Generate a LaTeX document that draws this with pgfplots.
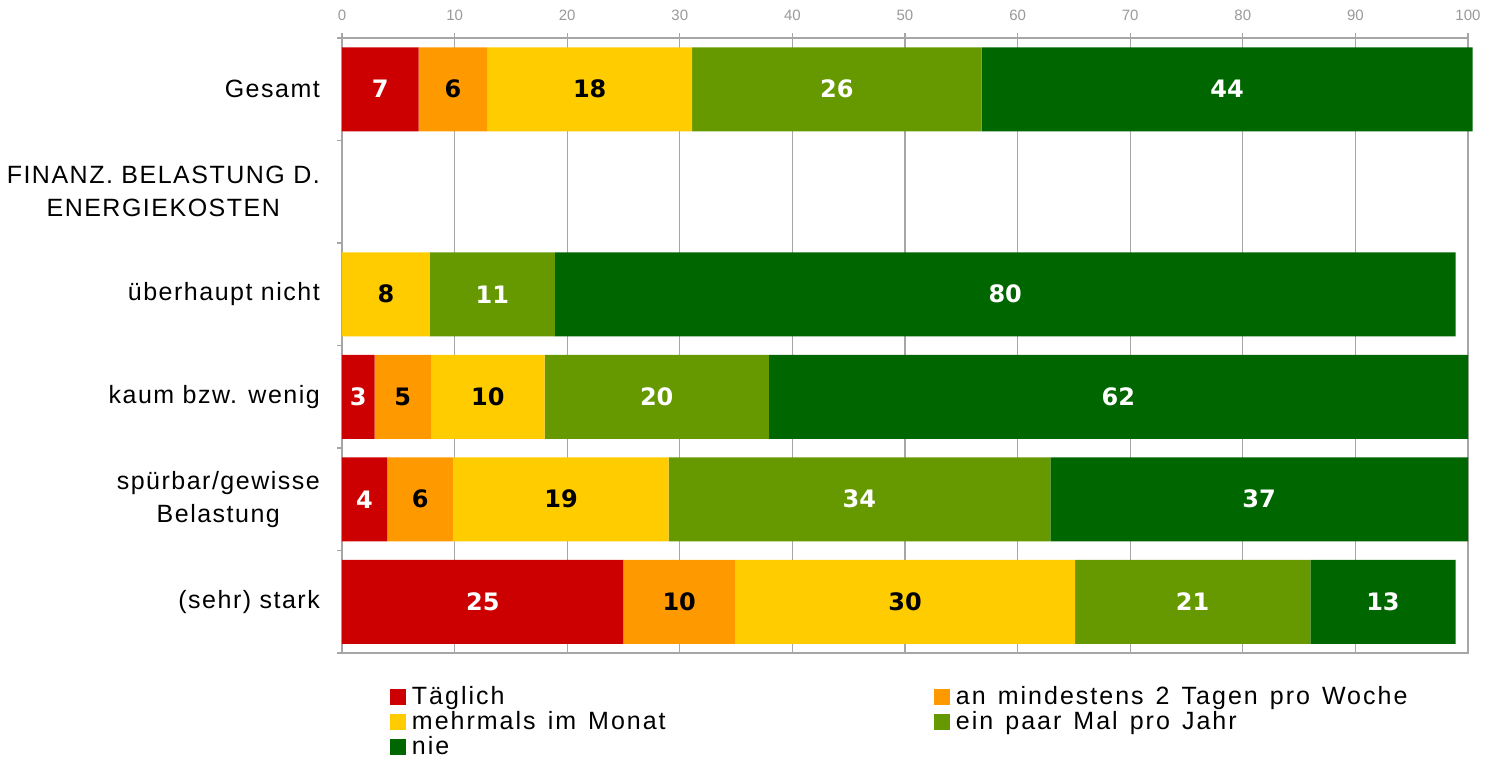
\documentclass[border=0pt]{standalone}
\usepackage{fontspec}
\setmainfont{Liberation Sans}[LetterSpace=6]
\newfontfamily\legfont{Liberation Sans}[LetterSpace=8, WordSpace=1.35]
\newfontfamily\tickfont{Liberation Sans}
\newfontfamily\barfont{DejaVu Sans}
\usepackage{pgfplots}
\usepackage{pgfplotstable}
\pgfplotsset{compat=1.18}
\definecolor{cRed}{HTML}{CC0000}
\definecolor{cOrange}{HTML}{FF9900}
\definecolor{cYellow}{HTML}{FFCC00}
\definecolor{cGreen}{HTML}{669900}
\definecolor{cDark}{HTML}{006600}
\definecolor{axgray}{HTML}{A6A6A6}
\definecolor{ticklab}{HTML}{999999}

\pgfplotstableread{
y a b c d e
0 6.8 6.1 18.2 25.7 43.6
2 0 0 7.8 11.1 80.0
3 2.9 5.0 10.1 19.9 62.1
4 4.0 5.9 19.1 33.9 37.1
5 25.0 9.9 30.2 20.9 12.9
}\data

\pgfplotstableread{
x y lab
3.4 0 7
43.95 0 26
78.6 0 44
13.35 2 11
58.9 2 80
1.45 3 3
27.95 3 20
68.95 3 62
2.0 4 4
45.95 4 34
81.45 4 37
12.5 5 25
75.55 5 21
92.45 5 13
}\whitelabels

\pgfplotstableread{
x y lab
9.85 0 6
22.0 0 18
3.9 2 8
5.4 3 5
12.95 3 10
6.95 4 6
19.45 4 19
29.95 5 10
50.0 5 30
}\blacklabels

\pgfplotsset{sq legend/.style={legend image code/.code={\fill[##1] (0pt,-6.5pt) rectangle (16pt,9.5pt);}}}

\begin{document}
\begin{tikzpicture}
\begin{axis}[
  name=main,
  scale only axis, width=1126pt, height=615pt,
  xbar stacked, bar width=84pt,
  xmin=0, xmax=100, ymin=-0.5, ymax=5.5, y dir=reverse,
  clip=false,
  axis line style={axgray, line width=1.3pt},
  tick style={axgray, line width=1.2pt},
  tick align=outside,
  major tick length=5pt,
  xtick={0,10,...,100},
  xtick pos=right, xticklabel pos=right,
  xmajorgrids,
  grid style={axgray, line width=1.2pt},
  xticklabel style={font=\tickfont\fontsize{15}{15}\selectfont, text=ticklab, inner sep=0pt, anchor=south, yshift=12pt},
  /pgf/number format/assume math mode=true,
  ytick={-0.5,0.5,1.5,2.5,3.5,4.5,5.5},
  yticklabels={},
  ytick pos=left,
  extra y ticks={0,1,2,3,4,5},
  extra y tick labels={Gesamt,{FINANZ. BELASTUNG D.\\ENERGIEKOSTEN},{überhaupt nicht},{kaum bzw. wenig},{spürbar/gewisse\\Belastung},{(sehr) stark}},
  extra y tick style={major tick length=0pt},
  yticklabel style={font=\fontsize{25}{33}\selectfont, align=center, inner sep=0pt, anchor=east, xshift=-22pt},
  legend columns=2,
  legend style={at={(0.0426,-0.0530)}, anchor=north west, draw=none, fill=none, inner sep=0pt, outer sep=0pt,
    font=\legfont\fontsize{25}{25}\selectfont,
    nodes={inner sep=0pt, text height=19pt, text depth=6pt},
    /tikz/every odd column/.append style={column sep=6pt},
    /tikz/every even column/.append style={column sep=0pt}},
  legend cell align=left,
]
\addplot[fill=cRed, draw=none, sq legend] table[x=a, y=y] \data;
\addlegendentry{\makebox[522pt][l]{Täglich}}
\addplot[fill=cOrange, draw=none, sq legend] table[x=b, y=y] \data;
\addlegendentry{an mindestens 2 Tagen pro Woche}
\addplot[fill=cYellow, draw=none, sq legend] table[x=c, y=y] \data;
\addlegendentry{\makebox[522pt][l]{mehrmals im Monat}}
\addplot[fill=cGreen, draw=none, sq legend] table[x=d, y=y] \data;
\addlegendentry{ein paar Mal pro Jahr}
\addplot[fill=cDark, draw=none, sq legend] table[x=e, y=y] \data;
\addlegendentry{\makebox[522pt][l]{nie}}
\end{axis}
\begin{axis}[
  scale only axis, width=1126pt, height=615pt,
  xmin=0, xmax=100, ymin=-0.5, ymax=5.5, y dir=reverse,
  hide axis, clip=false,
]
\addplot[only marks, mark=none, nodes near coords, point meta=explicit symbolic,
  every node near coord/.append style={anchor=center, inner sep=0pt, font=\barfont\bfseries\fontsize{24}{24}\selectfont, text=white}]
  table[x=x, y=y, meta=lab] \whitelabels;
\addplot[only marks, mark=none, nodes near coords, point meta=explicit symbolic,
  every node near coord/.append style={anchor=center, inner sep=0pt, font=\barfont\bfseries\fontsize{24}{24}\selectfont, text=black}]
  table[x=x, y=y, meta=lab] \blacklabels;
\end{axis}
\pgfresetboundingbox
\path (main.south west) ++(-342pt,-104pt) rectangle ++(1486pt,757pt);
\end{tikzpicture}
\end{document}
